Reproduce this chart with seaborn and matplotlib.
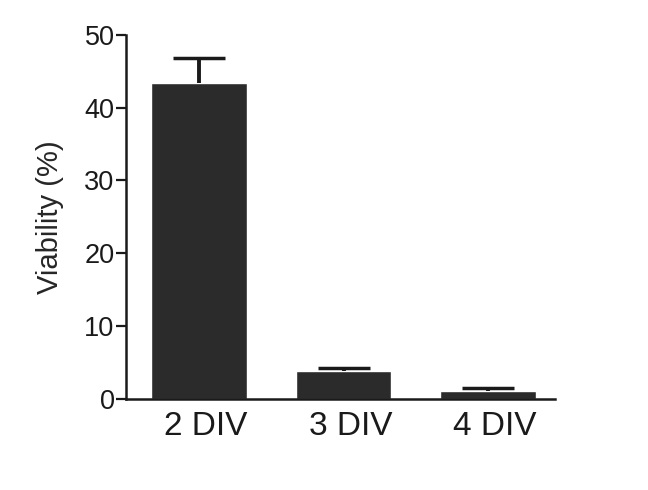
import numpy as np
import pandas as pd
import matplotlib
matplotlib.use("Agg")
import matplotlib.pyplot as plt
from matplotlib.transforms import ScaledTranslation
import seaborn as sns

# values
groups = ["2 DIV", "3 DIV", "4 DIV"]
viability = [43.4, 3.8, 1.1]
sem = [3.4, 0.45, 0.45]

df = pd.DataFrame({"group": groups, "viability": viability})

sns.set_style("ticks")
plt.rcParams['font.family'] = ['Liberation Sans', 'DejaVu Sans']

fig = plt.figure(figsize=(6.48, 4.9), dpi=100)
ax = fig.add_axes([0.194, 0.186, 0.663, 0.743])

sns.barplot(data=df, x="group", y="viability", color="#2b2b2b",
            saturation=1, width=0.66, errorbar=None, ax=ax)

# one-sided error bars (upper only)
eb = ax.errorbar(x=np.arange(len(groups)), y=viability,
                 yerr=[np.zeros(len(sem)), sem], fmt="none",
                 ecolor="#1a1a1a", elinewidth=2.8, capsize=19, capthick=2.5)
eb[1][0].set_visible(False)  # hide the lower caps

ax.set_ylim(0, 50)
ax.set_yticks([0, 10, 20, 30, 40, 50])
ax.set_xlim(-0.507, 2.465)
ax.set_xlabel("")
ax.set_ylabel("Viability (%)", fontsize=21, labelpad=15)

ax.tick_params(axis="y", labelsize=19.5, length=7, width=1.6, colors="#1a1a1a", pad=1)
ax.tick_params(axis="x", labelsize=24, length=0, pad=9, colors="#1a1a1a")
# x labels sit a little right of the bar centres in the original
for lab in ax.get_xticklabels():
    lab.set_transform(lab.get_transform() + ScaledTranslation(0.07, 0, fig.dpi_scale_trans))
for s in ["left", "bottom"]:
    ax.spines[s].set_linewidth(1.8)
    ax.spines[s].set_color("#1a1a1a")
sns.despine(ax=ax)

fig.savefig("out.png", dpi=100)
